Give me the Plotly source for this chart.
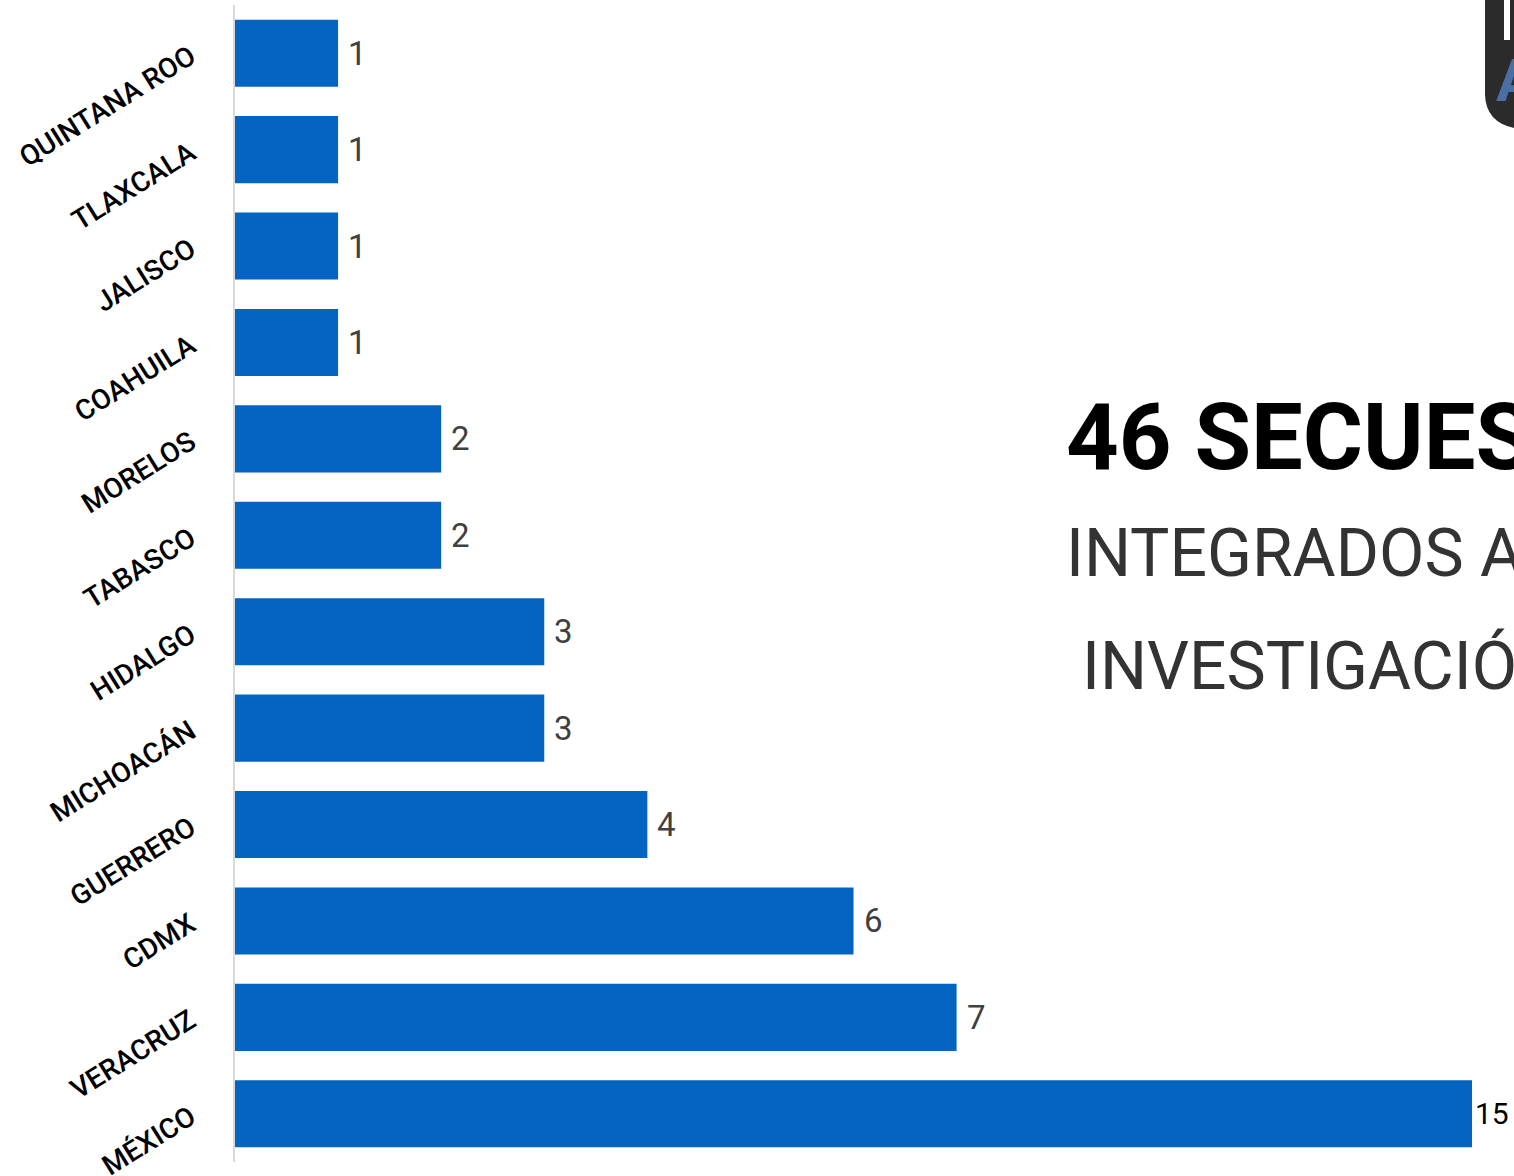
import plotly.graph_objects as go

# ---- data (top to bottom as shown) ----
states = ["QUINTANA ROO", "TLAXCALA", "JALISCO", "COAHUILA", "MORELOS", "TABASCO",
          "HIDALGO", "MICHOACÁN", "GUERRERO", "CDMX", "VERACRUZ", "MÉXICO"]
cases = [1, 1, 1, 1, 2, 2, 3, 3, 4, 6, 7, 15]
x_max = 12  # axis limit of the original chart (largest bar runs past it)

title_lines = ["46 SECUESTROS", "INTEGRADOS A", "INVESTIGACIÓN"]

W, H = 1514, 1176
ML, MR, MT, MB = 235, 42, 5, 14
PW, PH = W - ML - MR, H - MT - MB


def px_x(px):
    return (px - ML) / PW


def px_y(py):
    return (H - MB - py) / PH


BLUE = "#0563C1"

fig = go.Figure()
fig.add_trace(go.Bar(
    y=states, x=cases, orientation="h",
    marker=dict(color=BLUE, line=dict(width=0)),
    hoverinfo="x+y",
))

annotations = []
for s, v in zip(states, cases):
    clipped = v > x_max
    annotations.append(dict(
        x=min(v, x_max), y=s, xref="x", yref="y",
        text=str(v), showarrow=False, xanchor="left", yanchor="middle",
        xshift=1 if clipped else 8,
        font=dict(family="Roboto", size=30 if clipped else 33,
                  color="#000000" if clipped else "#404040"),
    ))

# title block on the right (runs off the page edge as in the reference)
annotations += [
    dict(x=px_x(1064), y=px_y(438), xref="paper", yref="paper", text=title_lines[0],
         showarrow=False, xanchor="left", yanchor="middle",
         font=dict(family="Roboto", size=92, color="#000000", weight="bold")),
    dict(x=px_x(1064), y=px_y(553), xref="paper", yref="paper", text=title_lines[1],
         showarrow=False, xanchor="left", yanchor="middle",
         font=dict(family="Roboto", size=66, color="#333333")),
    dict(x=px_x(1080), y=px_y(667), xref="paper", yref="paper", text=title_lines[2],
         showarrow=False, xanchor="left", yanchor="middle",
         font=dict(family="Roboto", size=66, color="#333333")),
    dict(x=px_x(1494), y=px_y(80), xref="paper", yref="paper", text="A",
         showarrow=False, xanchor="left", yanchor="middle",
         font=dict(family="Roboto", size=60, color="#4A6FA5", weight="bold")),
]

# logo shield (partially visible in top-right corner)
shield = (f"M {px_x(1485)},{px_y(0)} L {px_x(1485)},{px_y(95)} "
          f"Q {px_x(1486)},{px_y(122)} {px_x(1514)},{px_y(128)} "
          f"L {px_x(1520)},{px_y(128)} L {px_x(1520)},{px_y(0)} Z")
shapes = [
    dict(type="path", xref="paper", yref="paper", path=shield,
         fillcolor="#2B2B2B", line=dict(width=0), layer="below"),
    dict(type="rect", xref="paper", yref="paper",
         x0=px_x(1504), x1=px_x(1510), y0=px_y(0), y1=px_y(40),
         fillcolor="#FFFFFF", line=dict(width=0), layer="below"),
]

fig.update_layout(
    width=W, height=H, autosize=False,
    margin=dict(l=ML, r=MR, t=MT, b=MB, pad=0),
    paper_bgcolor="white", plot_bgcolor="white",
    showlegend=False, bargap=0.305,
    annotations=annotations, shapes=shapes,
    xaxis=dict(range=[0, x_max], visible=False, showgrid=False, zeroline=False,
               automargin=False),
    yaxis=dict(autorange="reversed", showgrid=False, zeroline=False, automargin=False,
               showline=True, linecolor="#D9D9D9", linewidth=2,
               ticks="", tickangle=-32, ticklabelstandoff=37,
               tickfont=dict(family="Roboto", size=28, color="#000000", weight=500)),
)

fig.write_html(
    "out.html",
    config={"displayModeBar": False},
    post_script="document.body.style.margin='0';document.body.style.overflow='hidden';",
)
